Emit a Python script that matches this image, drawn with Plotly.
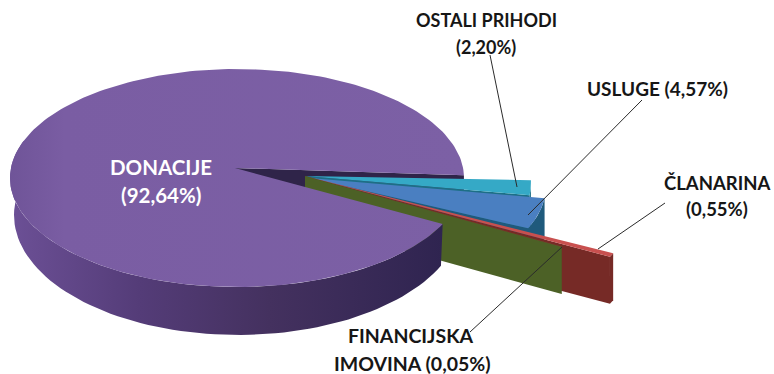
import numpy as np
import plotly.graph_objects as go

# ---- data ----
categories = ["OSTALI PRIHODI", "USLUGE", "ČLANARINA", "FINANCIJSKA IMOVINA", "DONACIJE"]
values = [2.20, 4.57, 0.55, 0.05, 92.64]
label_lines = [["OSTALI PRIHODI", "(2,20%)"], ["USLUGE (4,57%)"], ["ČLANARINA", "(0,55%)"],
               ["FINANCIJSKA", "IMOVINA (0,05%)"], ["DONACIJE", "(92,64%)"]]

# ---- layout of the tilted pie (pixels of the 774x374 canvas) ----
START_ANGLE = 1.5
RX, RY = 227, 109
PIE = dict(tip=(235, 168), origin=(237, 178))
BOTTOM = dict(origin=(238, 215), rx=224, ry=120)
EXPLODE = {
    "OSTALI PRIHODI": dict(tip=(305, 176), origin=(304, 183), depth=40),
    "USLUGE": dict(tip=(310, 178), origin=(319, 186), depth=40),
    "ČLANARINA": dict(tip=(305, 176), origin=(404, 211), depth=47),
    "FINANCIJSKA IMOVINA": dict(tip=(305, 176), origin=(356, 201), depth=47),
}
COLORS = {
    "OSTALI PRIHODI": ("#35a9c6", "#1d6f86"),
    "USLUGE": ("#4a7fc1", "#1f5a7c"),
    "ČLANARINA": ("#c8504f", "#762a26"),
    "FINANCIJSKA IMOVINA": ("#5a7030", "#4c6126"),
}
LABEL_POS = {
    "OSTALI PRIHODI": [(486, 20), (486, 47)],
    "USLUGE": [(657, 88)],
    "ČLANARINA": [(717, 183), (717, 209)],
    "FINANCIJSKA IMOVINA": [(411, 335), (412, 363)],
    "DONACIJE": [(161, 167), (161, 195)],
}
LABEL_SIZE = {"OSTALI PRIHODI": 18, "USLUGE": 19, "ČLANARINA": 18.5, "FINANCIJSKA IMOVINA": 19.5, "DONACIJE": 20.5}
LEADERS = [((490, 55), (517, 187)), ((642, 100), (528, 215)),
           ((665, 203), (598, 249)), ((470, 332), (562, 247))]

# ---- angles from the values ----
sweeps = np.array(values) / sum(values) * 360
ends = START_ANGLE - np.cumsum(sweeps)
starts = ends + sweeps
ANG = {c: (s, e) for c, s, e in zip(categories, starts, ends)}


def arc(origin, rx, ry, a0, a1, n=80):
    t = np.radians(np.linspace(a0, a1, n))
    return origin[0] + rx * np.cos(t), origin[1] - ry * np.sin(t)


fig = go.Figure()


def poly(x, y, color, name, gradient=None):
    kw = dict(fillgradient=gradient) if gradient else dict(fillcolor=color)
    fig.add_trace(go.Scatter(x=list(x), y=list(y), mode="lines", fill="toself", name=name,
                             line=dict(width=0, color=color), hoverinfo="name", showlegend=False, **kw))


# inner wall of the big slice, visible in the gap
s0, e0 = ANG["DONACIJE"]
ax, ay = arc(PIE["origin"], RX, RY, START_ANGLE, START_ANGLE, 1)
tx, ty = PIE["tip"]
poly([tx, ax[0], ax[0], tx], [ty, ay[0], ay[0] + 48, ty + 48], "#2f2449", "DONACIJE")


def slice_top(c):
    e = EXPLODE[c]
    a0, a1 = ANG[c]
    x, y = arc(e["origin"], RX, RY, a0, a1, 20)
    poly([e["tip"][0], *x], [e["tip"][1], *y], COLORS[c][0], c)


def slice_walls(c):
    e = EXPLODE[c]
    a0, a1 = ANG[c]
    d = e["depth"]
    x, y = arc(e["origin"], RX, RY, a0, a1, 20)
    # outer rim
    poly([*x, *x[::-1]], [*y, *(y[::-1] + d)], COLORS[c][1], c)
    # radial wall
    tx, ty = e["tip"]
    poly([tx, x[-1], x[-1], tx], [ty, y[-1], y[-1] + d, ty + d], COLORS[c][1], c)


for c in ["OSTALI PRIHODI", "USLUGE"]:
    slice_walls(c)
    slice_top(c)
slice_walls("ČLANARINA")
slice_walls("FINANCIJSKA IMOVINA")
slice_top("FINANCIJSKA IMOVINA")
slice_top("ČLANARINA")

# big slice: rim then top
rim_a0 = s0
rim_a1 = max(e0, -200)
x1, y1 = arc(PIE["origin"], RX, RY, rim_a0, rim_a1)
x2, y2 = arc(BOTTOM["origin"], BOTTOM["rx"], BOTTOM["ry"], rim_a0, rim_a1)
poly([*x1, *x2[::-1]], [*y1, *y2[::-1]], "#4b3768", "DONACIJE",
     gradient=dict(type="horizontal", colorscale=[[0, "#6c5096"], [0.3, "#543c78"], [0.6, "#44315f"], [1, "#2f2450"]]))
x, y = arc(PIE["origin"], RX, RY, s0, e0, 240)
poly([PIE["tip"][0], *x, PIE["tip"][0]], [PIE["tip"][1], *y, PIE["tip"][1]], "#7a5da3", "DONACIJE",
     gradient=dict(type="horizontal", colorscale=[[0, "#6f5498"], [0.12, "#7a5da3"], [1, "#7c60a5"]]))

# leader lines
for p, q in LEADERS:
    fig.add_shape(type="line", xref="x", yref="y", x0=p[0], y0=p[1], x1=q[0], y1=q[1],
                  line=dict(color="#2b2b2b", width=1))

# labels
for c, lines in zip(categories, label_lines):
    for text, pos in zip(lines, LABEL_POS[c]):
        col = "#ffffff" if c == "DONACIJE" else "#161616"
        fig.add_annotation(x=pos[0], y=pos[1], text=f"<b>{text}</b>", showarrow=False, xref="x", yref="y",
                           xanchor="center", yanchor="middle",
                           font=dict(family="Lato", size=LABEL_SIZE[c], color=col))

fig.update_layout(width=774, height=374, margin=dict(l=0, r=0, t=0, b=0), autosize=False,
                  paper_bgcolor="white", plot_bgcolor="white", showlegend=False,
                  xaxis=dict(range=[0, 774], visible=False, fixedrange=True),
                  yaxis=dict(range=[374, 0], visible=False, fixedrange=True))
fig.write_html("out.html", config={"displayModeBar": False},
               post_script="document.body.style.margin='0';document.documentElement.style.overflow='hidden';")
